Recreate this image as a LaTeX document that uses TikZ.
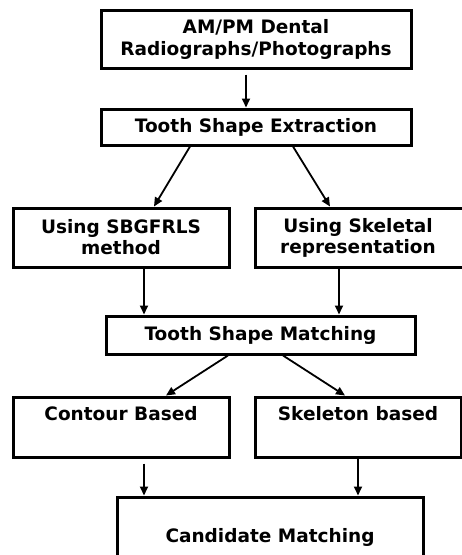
\documentclass[tikz,border=0pt]{standalone}
\usepackage{fontspec}
\setmainfont{DejaVu Sans}
\usetikzlibrary{arrows.meta}
\begin{document}
\begin{tikzpicture}[x=1pt,y=-1pt,
  box/.style={draw=black,line width=3pt,fill=white,inner sep=0pt,align=center,
    font=\bfseries\fontsize{18.5}{21}\selectfont},
  arr/.style={line width=1.8pt,-{Triangle[length=9pt,width=8pt]}}]
\useasboundingbox (0,0) rectangle (462,555);
\node[box,minimum width=310pt,minimum height=58pt] (b1) at (256,39) {AM/PM Dental\\[1pt]Radiographs/Photographs};
\node[box,minimum width=310pt,minimum height=36pt] (b2) at (256,127) {Tooth Shape Extraction};
\node[box,minimum width=216pt,minimum height=59pt] (b3) at (121,237.5) {Using SBGFRLS\\method};
\node[box,minimum width=212pt,minimum height=59pt] (b4) at (361,237.5) {\hspace*{-6pt}Using Skeletal\\\hspace*{-6pt}representation};
\node[box,minimum width=309pt,minimum height=38pt] (b5) at (260.5,335) {Tooth Shape Matching};
\node[box,minimum width=216pt,minimum height=60pt] (b6) at (121,427) {Contour Based\\\strut};
\node[box,minimum width=206pt,minimum height=60pt] (b7) at (358,427) {Skeleton based\\\strut};
\node[box,minimum width=306pt,minimum height=60pt] (b8) at (270,527) {\strut\\Candidate Matching};
\draw[arr,shorten <=5pt] ([xshift=-10pt]b1.south) -- ([xshift=-10pt]b1.south |- b2.north);
\draw[arr] ([xshift=-66pt]b2.south) -- ([xshift=33pt]b3.north);
\draw[arr] ([xshift=37pt]b2.south) -- ([xshift=-31pt]b4.north);
\draw[arr] ([xshift=23pt]b3.south) -- ([xshift=23pt]b3.south |- b5.north);
\draw[arr] ([xshift=-22pt]b4.south) -- ([xshift=-22pt]b4.south |- b5.north);
\draw[arr] ([xshift=-32.5pt]b5.south) -- ([xshift=45pt]b6.north);
\draw[arr] ([xshift=22.5pt]b5.south) -- ([xshift=-13pt]b7.north);
\draw[arr,shorten <=5pt] ([xshift=23pt]b6.south) -- ([xshift=23pt]b6.south |- b8.north);
\draw[arr] (b7.south) -- (b7.south |- b8.north);
\end{tikzpicture}
\end{document}
